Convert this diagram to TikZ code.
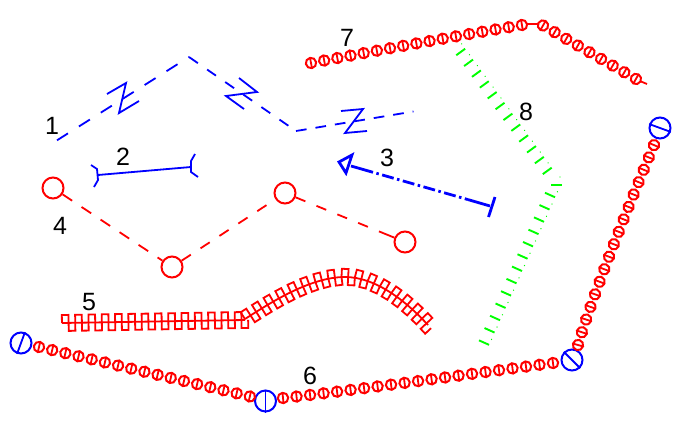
\documentclass[tikz,border=0pt]{standalone}
\usepackage{fontspec}
\setmainfont{Liberation Sans}
\usetikzlibrary{decorations.markings}
\tikzset{set label/.style={text=black,inner sep=0,font=\fontsize{25}{25}\selectfont}}
\tikzset{blue line/.style={draw=blue,line width=1.8}}
\tikzset{red line/.style={draw=red,line width=1.8}}
\tikzset{red ring/.style={circle,draw=red,line width=2,minimum size=21,inner sep=0}}
\tikzset{blue ring/.style={circle,draw=blue,line width=2,minimum size=21,inner sep=0}}
\tikzset{bead chain/.style={decorate,decoration={markings,
  mark=between positions 0 and 1 step 0.9995/#1 with {
    \draw[red,line width=2] (0,0) circle (\beadRadius);
    \draw[red,line width=1.8] (0,-\beadRadius) -- (0,\beadRadius);
  }}}}
\tikzset{green chain/.style={decorate,decoration={markings,
  mark=between positions 0 and 1 step 0.9995/#1 with {
    \draw[green,line width=1.9] (0,-5.5) -- (0,5.5);
    \fill[green] (-6,-5.5) circle (0.7);
  }}}}
\tikzset{square wave/.style={red line,postaction={decorate},decoration={markings,
  mark=between positions 6.6pt and 1 step 13.3pt with {
    \draw[red,line width=1.8] (-6.65,0) -- (-6.65,-8) -- (0,-8) -- (0,8) -- (6.65,8) -- (6.65,0);
  }}}}
\def\beadRadius{5.2}

\begin{document}
\begin{tikzpicture}[x=1pt,y=-1pt]

  \useasboundingbox (0,0) rectangle (685,431);

  \coordinate (oneA) at (57,140.3);
  \coordinate (oneB) at (189,57);
  \coordinate (oneC) at (296,131);
  \coordinate (oneD) at (413.5,111.5);

  \draw[blue line,dash pattern=on 13 off 12.9] (oneA) -- (oneB);
  \draw[blue line,dash pattern=on 10.8 off 11.2] (oneB) -- (oneC);
  \draw[blue line,dash pattern=on 10.7 off 9] (oneC) -- (oneD);
  \draw[blue line] (107,94) -- (126,83) -- (119,113) -- (139,101);
  \draw[blue line] (239,78) -- (257,92) -- (226,96) -- (244,109);
  \draw[blue line] (341,111) -- (363,109) -- (345,133) -- (367,131);

  \coordinate (twoA) at (98,175);
  \coordinate (twoB) at (191,167);
  \draw[blue line] (twoA) -- (twoB);
  \draw[blue line] (91,165) -- (97,169) -- (98,180) -- (94,187);
  \draw[blue line] (195,154) -- (191,161) -- (191,172) -- (198,177);

  \coordinate (threeA) at (351,166);
  \coordinate (threeB) at (373,172.3);
  \coordinate (threeC) at (468,199.6);
  \coordinate (threeD) at (490,206);
  \draw[blue,line width=2.8] (threeA) -- (threeB);
  \draw[blue,line width=2.8,dash pattern=on 12 off 3.5 on 2.5 off 3.5,dash phase=12] (threeB) -- (threeC);
  \draw[blue,line width=2.8] (threeC) -- (threeD);
  \draw[blue,line width=2.8] (495,197) -- (488.5,217);
  \draw[blue,line width=2.8] (352,155) -- (339,162) -- (346,173) -- cycle;

  \node[red ring] (fourA) at (53,188) {};
  \node[red ring] (fourB) at (172,267) {};
  \node[red ring] (fourC) at (285,193) {};
  \node[red ring] (fourD) at (405,242) {};
  \draw[red line,dash pattern=on 11.5 off 11.3] (fourA) -- (fourB);
  \draw[red line,dash pattern=on 11 off 11.6] (fourB) -- (fourC);
  \draw[red line,dash pattern=on 10.5 off 12 on 10.5 off 12 on 10.5 off 12 on 10.5 off 12 on 30] (fourC) -- (fourD);

  \draw[square wave] (62,323) -- (245,320);
  \draw[square wave] (245,319) .. controls (270,303) and (310,277) .. (345,277) .. controls (375,277) and (405,300) .. (428,325);

  \node[blue ring] (sixA) at (21,343) {};
  \node[blue ring] (sixB) at (265.5,401) {};
  \node[blue ring] (sixC) at (572,360) {};
  \node[blue ring] (sixD) at (660,128) {};
  \draw[blue line] (sixA.70) -- (sixA.250);
  \draw[blue line] (sixB.90) -- (sixB.270);
  \draw[blue line] (sixC.135) -- (sixC.315);
  \draw[blue line] (sixD.160) -- (sixD.340);
  \path[bead chain=16] (39,347) -- (250,396.5);
  \path[bead chain=20] (283,398) .. controls (340,392) and (440,378) .. (553,363);
  \path[bead chain=16] (578,345) .. controls (585,320) and (610,250) .. (654,145);

  \path[bead chain=16] (311,63) .. controls (380,50) and (450,37) .. (522,25);
  \path[bead chain=8] (543,25.5) -- (636,79);
  \coordinate (sevenA) at (527,24);
  \coordinate (sevenB) at (538,24);
  \coordinate (sevenC) at (641,81.5);
  \coordinate (sevenD) at (647,84);
  \draw[red line] (sevenA) -- (sevenB);
  \draw[red line] (sevenC) -- (sevenD);

  \path[green chain=11] (460.7,52) -- (547.3,171);
  \path[green chain=12] (550,195) -- (484,342.7);
  \draw[green,line width=1.9] (551,185) -- (562,185);
  \fill[green] (560,177) circle (0.7);

  \node[set label] (labelOne) at (52,126) {1};
  \node[set label] (labelTwo) at (123,157) {2};
  \node[set label] (labelThree) at (387,158) {3};
  \node[set label] (labelFour) at (60,226) {4};
  \node[set label] (labelFive) at (89,302) {5};
  \node[set label] (labelSix) at (310,376) {6};
  \node[set label] (labelSeven) at (347,38) {7};
  \node[set label] (labelEight) at (526,112) {8};

\end{tikzpicture}
\end{document}
